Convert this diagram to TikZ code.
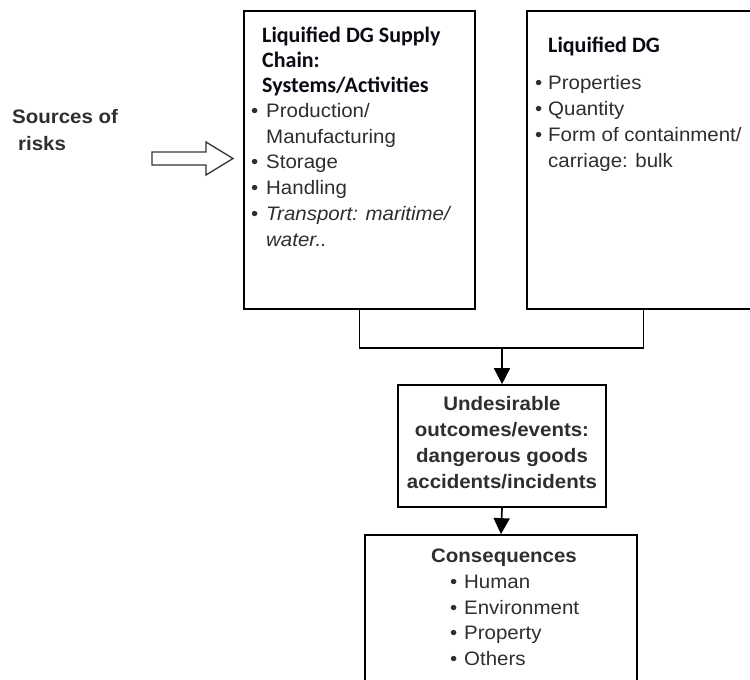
\documentclass[tikz,border=0pt]{standalone}
\usepackage{fontspec}
\setmainfont{Liberation Sans}[FakeStretch=1.05]
\newfontfamily\calib{Carlito}
\usetikzlibrary{arrows.meta}
\definecolor{txt}{HTML}{2E2E2E}
\definecolor{hd}{HTML}{0A0A14}
\tikzset{
  box/.style={draw=black,line width=1.7pt,inner sep=0,fill=none},
  body/.style={inner sep=0,anchor=base west,text=txt,font=\fontsize{19.5}{24}\selectfont},
  bodyc/.style={inner sep=0,anchor=base,text=txt,font=\bfseries\fontsize{19.5}{24}\selectfont},
  head/.style={inner sep=0,anchor=base west,text=hd,font=\calib\bfseries\fontsize{22}{26}\selectfont},
  conn/.style={draw=black,line width=1.7pt},
  tip/.style={-{Triangle[length=16pt,width=16pt]}},
}
\begin{document}
\begin{tikzpicture}[x=1pt,y=-1pt]
\useasboundingbox (0,0) rectangle (750,680);

% boxes
\node[box,minimum width=231pt,minimum height=298pt] (chain) at (359.5,160) {};
\node[box,minimum width=233pt,minimum height=298pt] (dg) at (643.5,160) {};
\node[box,minimum width=208pt,minimum height=122pt] (ev) at (502,446) {};
\node[box,minimum width=272pt,minimum height=165pt] (cons) at (501,617.5) {};

% connectors
\coordinate (join) at (502,348);
\draw[conn] (chain.south) |- (join) -| (dg.south);
\draw[conn,tip] (join) -- (ev.north);
\draw[conn,tip] (ev.south) -- (cons.north);

% sources of risks and hollow arrow
\node[inner sep=0,anchor=base west,text=txt,font=\bfseries\fontsize{19.5}{24}\selectfont] (src1) at (12,123) {Sources of};
\node[inner sep=0,anchor=base west,text=txt,font=\bfseries\fontsize{19.5}{24}\selectfont] (src2) at (18,150) {risks};
\draw[line width=1.3pt,draw=black!80] (152,152) -- (206,152) -- (206,142) -- (233,158.5)
  -- (206,175) -- (206,165) -- (152,165) -- cycle;

% supply chain box text
\node[head] (ch1) at (262,42) {Liquified DG Supply};
\node[head] (ch2) at (262,67) {Chain:};
\node[head] (ch3) at (262,92) {Systems/Activities};
\node[body] (cb1) at (251,117) {\textbullet};
\node[body] (ct1) at (266,117) {Production/};
\node[body] (ct2) at (266,143) {Manufacturing};
\node[body] (cb3) at (251,168.5) {\textbullet};
\node[body] (ct3) at (266,168.5) {Storage};
\node[body] (cb4) at (251,194.5) {\textbullet};
\node[body] (ct4) at (266,194.5) {Handling};
\node[body] (cb5) at (251,220) {\textbullet};
\node[body] (ct5) at (266,220) {\itshape Transport: maritime/};
\node[body] (ct6) at (266,246) {\itshape water..};

% liquified DG box text
\node[head] (dh) at (548,52) {Liquified DG};
\node[body] (db1) at (535,89) {\textbullet};
\node[body] (dt1) at (548,89) {Properties};
\node[body] (db2) at (535,115) {\textbullet};
\node[body] (dt2) at (548,115) {Quantity};
\node[body] (db3) at (535,141) {\textbullet};
\node[body] (dt3) at (548,141) {Form of containment/};
\node[body] (dt4) at (548,167) {carriage: bulk};

% undesirable outcomes box text
\node[bodyc] (e1) at (502,410) {Undesirable};
\node[bodyc] (e2) at (502,436) {outcomes/events:};
\node[bodyc] (e3) at (502,462) {dangerous goods};
\node[bodyc] (e4) at (502,488) {accidents/incidents};

% consequences box text
\node[bodyc] (k0) at (504,562) {Consequences};
\node[body] (kb1) at (450,588) {\textbullet};
\node[body] (kt1) at (464,588) {Human};
\node[body] (kb2) at (450,614) {\textbullet};
\node[body] (kt2) at (464,614) {Environment};
\node[body] (kb3) at (450,639.5) {\textbullet};
\node[body] (kt3) at (464,639.5) {Property};
\node[body] (kb4) at (450,665.5) {\textbullet};
\node[body] (kt4) at (464,665.5) {Others};
\end{tikzpicture}
\end{document}
